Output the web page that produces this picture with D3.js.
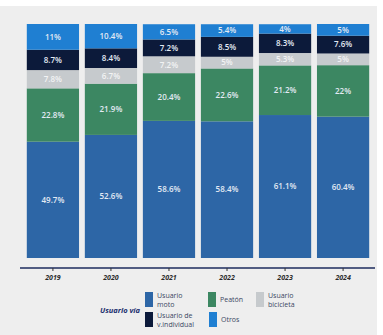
<!DOCTYPE html>
<html>
<head>
<meta charset="utf-8">
<script src="https://cdn.jsdelivr.net/npm/d3@7"></script>
<style>
  body { margin: 0; background: #ffffff; }
  svg { display: block; }
</style>
</head>
<body>
<div id="chart"></div>
<script>
// data, percent of road deaths by user type
let years = ["2019", "2020", "2021", "2022", "2023", "2024"];
let keys = ["moto", "peaton", "bici", "vindiv", "otros"];
let moto   = [49.7, 52.6, 58.6, 58.4, 61.1, 60.4];
let peaton = [22.8, 21.9, 20.4, 22.6, 21.2, 22];
let bici   = [7.8, 6.7, 7.2, 5, 5.3, 5];
let vindiv = [8.7, 8.4, 7.2, 8.5, 8.3, 7.6];
let otros  = [11, 10.4, 6.5, 5.4, 4, 5];
let legendLabels = {
  moto: ["Usuario", "moto"],
  peaton: ["Peatón"],
  bici: ["Usuario", "bicicleta"],
  vindiv: ["Usuario de", "v.individual"],
  otros: ["Otros"]
};

let width = 383;
let height = 335;

let colors = d3.scaleOrdinal()
  .domain(keys)
  .range(["#2d66a6", "#3c8762", "#c6cacd", "#0c1a3a", "#1f7fd2"]);

let rows = years.map((y, i) => ({
  year: y, moto: moto[i], peaton: peaton[i], bici: bici[i],
  vindiv: vindiv[i], otros: otros[i]
}));

let stack = d3.stack().keys(keys);
let series = stack(rows);

let svg = d3.select("#chart")
  .append("svg")
  .attr("width", width).attr("height", height);

// light scanned page background
svg.append("rect")
  .attr("x", 0).attr("y", 6)
  .attr("width", 377).attr("height", height - 6)
  .attr("fill", "#eeeeee");

let xScale = d3.scaleBand()
  .domain(years)
  .range([21, 375])
  .padding(0.1);
let yScale = d3.scaleLinear()
  .domain([0, 100])
  .range([258, 24]);

let groups = svg.append("g")
  .selectAll("g")
  .data(series)
  .enter()
  .append("g")
  .attr("fill", d => colors(d.key));

groups.selectAll("rect")
  .data(d => d.map(p => ({ key: d.key, p: p })))
  .enter()
  .append("rect")
  .attr("x", d => xScale(d.p.data.year))
  .attr("width", xScale.bandwidth())
  .attr("y", d => yScale(Math.min(d.p[1], 100)))
  .attr("height", d => yScale(d.p[0]) - yScale(Math.min(d.p[1], 100)));

groups.selectAll("text")
  .data(d => d.map(p => ({ key: d.key, p: p })))
  .enter()
  .append("text")
  .attr("x", d => xScale(d.p.data.year) + xScale.bandwidth() / 2)
  .attr("y", d => (yScale(d.p[0]) + yScale(Math.min(d.p[1], 100))) / 2)
  .attr("dy", "0.35em")
  .attr("text-anchor", "middle")
  .attr("font-family", "Open Sans, sans-serif")
  .attr("font-size", 8)
  .attr("font-weight", 600)
  .attr("fill", d => d.key === "bici" ? "#f2f3f4" : "#e3eaf4")
  .text(d => d.p.data[d.key] + "%");

// axis
let xAxis = svg.append("g")
  .attr("transform", "translate(0, 268)")
  .call(d3.axisBottom(xScale).tickSize(3).tickPadding(4));
xAxis.select(".domain")
  .attr("d", "M20,0H375")
  .attr("stroke", "#1c2b5c")
  .attr("stroke-width", 1.6);
xAxis.selectAll(".tick line").attr("stroke", "#333");
xAxis.selectAll(".tick text")
  .attr("font-family", "Open Sans, sans-serif")
  .attr("font-size", 7)
  .attr("font-weight", 700)
  .attr("font-style", "italic")
  .attr("fill", "#2a2a2a");

// legend
let legend = svg.append("g");
legend.append("text")
  .attr("x", 140).attr("y", 310)
  .attr("dy", "0.35em")
  .attr("text-anchor", "end")
  .attr("font-family", "Open Sans, sans-serif")
  .attr("font-size", 7.5)
  .attr("font-weight", 700)
  .attr("font-style", "italic")
  .attr("fill", "#1b2e6e")
  .text("Usuario vía");

let legendPos = {
  moto: [145, 292], peaton: [208, 292], bici: [256, 292],
  vindiv: [145, 312], otros: [209, 312]
};

let items = legend.selectAll("g.item")
  .data(keys)
  .enter()
  .append("g")
  .attr("class", "item")
  .attr("transform", k => `translate(${legendPos[k][0]}, ${legendPos[k][1]})`);

items.append("rect")
  .attr("width", 8).attr("height", 15)
  .attr("fill", k => colors(k));

items.each(function(k) {
  let lines = legendLabels[k];
  let t = d3.select(this).append("text")
    .attr("font-family", "Open Sans, sans-serif")
    .attr("font-size", 7)
    .attr("fill", "#3a4763");
  lines.forEach((l, i) => {
    t.append("tspan")
      .attr("x", 12)
      .attr("y", lines.length === 1 ? 10 : 5.5 + i * 9)
      .text(l);
  });
});
</script>
</body>
</html>
